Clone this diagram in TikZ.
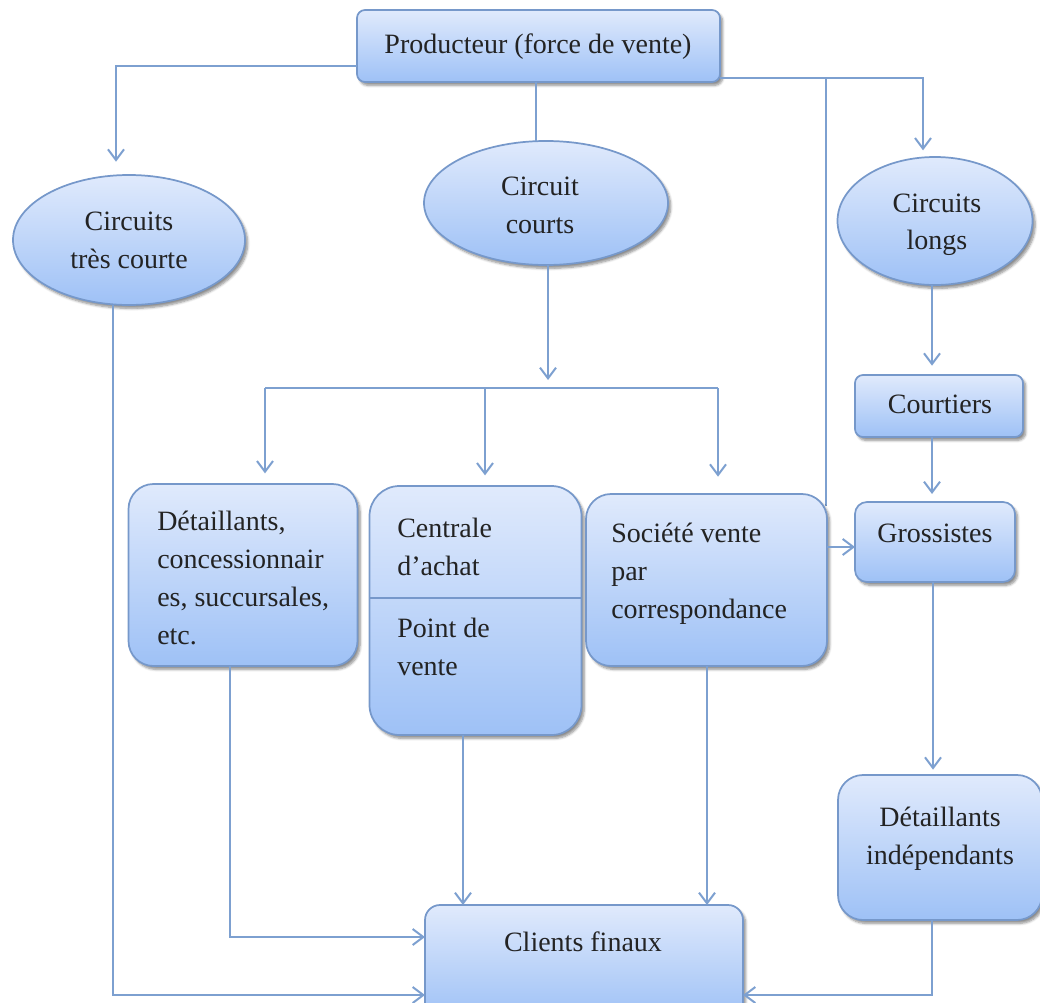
\documentclass[tikz,border=0pt]{standalone}
\usepackage{fontspec}
\setmainfont{Liberation Serif}
\usetikzlibrary{shapes.geometric,arrows.meta,shadows.blur}
\definecolor{ln}{RGB}{125,160,208}
\definecolor{bd}{RGB}{118,152,202}
\definecolor{ftop}{RGB}{224,234,252}
\definecolor{fbot}{RGB}{158,193,246}
\definecolor{txt}{RGB}{35,35,35}
\tikzset{
  box/.style={draw=bd, line width=1.3pt, top color=ftop, bottom color=fbot,
    blur shadow={shadow xshift=2pt, shadow yshift=-2.5pt, shadow blur steps=6, shadow opacity=45},
    inner sep=0pt, outer sep=0pt},
  sz/.style 2 args={minimum width=#1*0.75pt, minimum height=#2*0.75pt},
  rbox/.style={box, rectangle, rounded corners=#1*0.75pt},
  ell/.style={box, ellipse},
  conn/.style={draw=ln, line width=1.5pt},
  arr/.style={conn, -{Straight Barb[length=8pt,width=12pt]}},
  lbl/.style={font=\fontsize{21}{28.5}\selectfont, text=txt, inner sep=0pt},
}
\begin{document}
\begin{tikzpicture}[x=0.75pt,y=-0.75pt]
\useasboundingbox (0,0) rectangle (1040,1003);
\clip (0,0) rectangle (1040,1003);

% branch line behind boxes
\coordinate (br) at (826,78);
\draw[conn] (br) -- (br |- 0,506);

% boxes
\node[rbox=8, sz={363}{72}] (prod) at (538.5,46) {};
\node[ell, sz={232}{130}] (tc) at (129,240) {};
\node[ell, sz={244}{124}] (cc) at (546,203) {};
\node[ell, sz={195}{128}] (cl) at (935,221) {};
\node[rbox=8, sz={168}{62}] (court) at (939,406) {};
\node[rbox=12, sz={160}{80}] (gros) at (935,542) {};
\node[rbox=25, sz={229}{182}] (dd) at (243,575) {};
\node[rbox=30, sz={212}{249}] (cen) at (475.5,610.5) {};
\node[rbox=25, sz={241}{172}] (soc) at (706.5,580) {};
\node[rbox=25, sz={204}{145}] (dind) at (940,847.5) {};
\node[rbox=15, sz={318}{114}] (cli) at (584,962) {};
\draw[draw=bd, line width=1.3pt] (cen.west |- 0,598) -- (cen.east |- 0,598);

% labels
\node[lbl, anchor=base] (tprod) at (538,53) {Producteur (force de vente)};
\node[lbl, anchor=base] (tc1) at (129,230) {Circuits};
\node[lbl, anchor=base] (tc2) at (129,268) {très courte};
\node[lbl, anchor=base] (cc1) at (540,195) {Circuit};
\node[lbl, anchor=base] (cc2) at (540,233) {courts};
\node[lbl, anchor=base] (cl1) at (937,212) {Circuits};
\node[lbl, anchor=base] (cl2) at (937,249) {longs};
\node[lbl, anchor=base] (tcourt) at (940,413) {Courtiers};
\node[lbl, anchor=base] (tgros) at (935,542) {Grossistes};
\node[lbl, anchor=base west] (dd1) at (157,530) {Détaillants,};
\node[lbl, anchor=base west] (dd2) at (157,568) {concessionnair};
\node[lbl, anchor=base west] (dd3) at (157,606) {es, succursales,};
\node[lbl, anchor=base west] (dd4) at (157,644) {etc.};
\node[lbl, anchor=base west] (cen1) at (397,537) {Centrale};
\node[lbl, anchor=base west] (cen2) at (397,575) {d’achat};
\node[lbl, anchor=base west] (cen3) at (397,637) {Point de};
\node[lbl, anchor=base west] (cen4) at (397,675) {vente};
\node[lbl, anchor=base west] (soc1) at (611,542) {Société vente};
\node[lbl, anchor=base west] (soc2) at (611,580) {par};
\node[lbl, anchor=base west] (soc3) at (611,618) {correspondance};
\node[lbl, anchor=base] (di1) at (940,826) {Détaillants};
\node[lbl, anchor=base] (di2) at (940,864) {indépendants};
\node[lbl, anchor=base] (tcli) at (583,951) {Clients finaux};

% connectors
\draw[arr, shorten >=10pt] (prod.west |- 0,66) -| (tc.north -| 116,0);
\draw[conn] (prod.south -| 536,0) -- (cc.north -| 536,0);
\draw[arr, shorten >=5pt] (prod.east |- 0,78) -| (cl.north -| 923,0);
\draw[arr] (soc.east |- 0,547) -- (gros.west |- 0,547);
\draw[arr, shorten >=7pt] (cl.south -| 932,0) -- (court.north -| 932,0);
\draw[arr, shorten >=6pt] (court.south -| 932,0) -- (gros.north -| 932,0);
\draw[arr, shorten >=4pt] (gros.south -| 933,0) -- (dind.north -| 933,0);
\draw[arr] (dind.south -| 932,0) |- (cli.east |- 0,995);

\coordinate (bus) at (548,388);
\draw[arr, shorten >=6pt] (cc.south -| bus) -- (bus);
\draw[conn] (bus -| 265,0) -- (bus -| 718,0);
\draw[arr, shorten >=8pt] (bus -| 265,0) -- (dd.north -| 265,0);
\draw[arr, shorten >=8pt] (bus -| 485,0) -- (cen.north -| 485,0);
\draw[arr, shorten >=13pt] (bus -| 718,0) -- (soc.north -| 718,0);

\draw[arr] (dd.south -| 230,0) |- (cli.west |- 0,937);
\draw[arr] (cen.south -| 463,0) -- (cli.north -| 463,0);
\draw[arr] (soc.south -| 707,0) -- (cli.north -| 707,0);
\draw[arr] (tc.south -| 113,0) |- (cli.west |- 0,995);
\end{tikzpicture}
\end{document}
